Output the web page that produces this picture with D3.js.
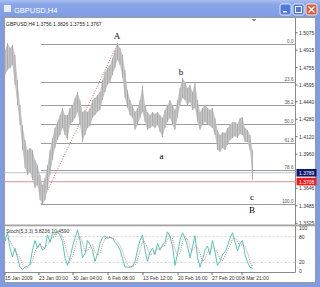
<!DOCTYPE html>
<html>
<head>
<meta charset="utf-8">
<script src="https://cdnjs.cloudflare.com/ajax/libs/d3/7.8.5/d3.min.js"></script>
<style>
  body { margin: 0; overflow: hidden; background: #fff; }
  svg { display: block; }
</style>
</head>
<body>
<div id="chart"></div>
<script>
  // header text
  var symbol = "GBPUSD,H4"
  var ohlcText = "GBPUSD,H4  1.3756  1.3826  1.3755  1.3767"

  var highs = [1.4916, 1.4980, 1.4934, 1.4962, 1.4870, 1.4641, 1.4411, 1.4227, 1.4090, 1.3998,
               1.4016, 1.3998, 1.3906, 1.3860, 1.3768, 1.3677, 1.3741, 1.3860, 1.3998, 1.4108,
               1.4200, 1.4255, 1.4319, 1.4384, 1.4319, 1.4319, 1.4384, 1.4411, 1.4475, 1.4530,
               1.4457, 1.4347, 1.4365, 1.4347, 1.4384, 1.4457, 1.4475, 1.4503, 1.4530, 1.4641,
               1.4714, 1.4751, 1.4778, 1.4843, 1.4916, 1.4980, 1.4934, 1.4870, 1.4732, 1.4549,
               1.4457, 1.4411, 1.4347, 1.4384, 1.4457, 1.4595, 1.4411, 1.4347, 1.4319, 1.4347,
               1.4328, 1.4347, 1.4319, 1.4292, 1.4365, 1.4411, 1.4457, 1.4411, 1.4365, 1.4457,
               1.4567, 1.4659, 1.4622, 1.4567, 1.4595, 1.4530, 1.4622, 1.4457, 1.4347, 1.4384,
               1.4411, 1.4384, 1.4365, 1.4384, 1.4292, 1.4182, 1.4136, 1.4163, 1.4154, 1.4200,
               1.4227, 1.4255, 1.4255, 1.4237, 1.4292, 1.4301, 1.4200, 1.4182, 1.4136, 1.3998]
  var lows  = [1.4686, 1.4732, 1.4751, 1.4778, 1.4595, 1.4411, 1.4227, 1.3998, 1.3833, 1.3768,
               1.3796, 1.3723, 1.3649, 1.3677, 1.3539, 1.3502, 1.3539, 1.3631, 1.3768, 1.3906,
               1.4016, 1.4090, 1.4136, 1.4200, 1.4136, 1.4090, 1.4227, 1.4255, 1.4292, 1.4347,
               1.4227, 1.4071, 1.4136, 1.4200, 1.4218, 1.4292, 1.4319, 1.4347, 1.4365, 1.4457,
               1.4530, 1.4595, 1.4622, 1.4686, 1.4751, 1.4824, 1.4778, 1.4659, 1.4475, 1.4384,
               1.4319, 1.4292, 1.4182, 1.4227, 1.4292, 1.4347, 1.4255, 1.4182, 1.4200, 1.4218,
               1.4200, 1.4227, 1.4163, 1.4117, 1.4200, 1.4255, 1.4292, 1.4227, 1.4182, 1.4292,
               1.4411, 1.4475, 1.4457, 1.4411, 1.4439, 1.4365, 1.4384, 1.4255, 1.4182, 1.4227,
               1.4255, 1.4237, 1.4218, 1.4200, 1.4136, 1.3998, 1.3980, 1.4016, 1.3998, 1.4044,
               1.4090, 1.4108, 1.4127, 1.4108, 1.4145, 1.4136, 1.4071, 1.4071, 1.3998, 1.3723]

  // stochastic (5,3,3) main and signal
  var stochMain = [71, 89, 53, 33, 53, 31, 9, 4, 9, 11,
                   16, 49, 71, 53, 64, 49, 53, 84, 67, 87,
                   84, 93, 82, 69, 31, 13, 31, 56, 76, 96,
                   71, 31, 40, 71, 62, 49, 22, 40, 64, 78,
                   82, 76, 78, 76, 67, 60, 49, 29, 9, 9,
                   9, 11, 22, 49, 71, 84, 49, 22, 44, 53,
                   38, 64, 49, 60, 67, 91, 80, 58, 13, 40,
                   71, 89, 76, 58, 31, 56, 82, 31, 9, 27,
                   49, 58, 38, 71, 44, 13, 22, 38, 44, 58,
                   76, 89, 67, 47, 64, 71, 38, 20, 9, 6]
  var stochSignal = [70, 75, 71, 58, 46, 39, 31, 15, 7, 8,
                     12, 25, 45, 58, 63, 55, 55, 62, 68, 79,
                     79, 88, 86, 81, 61, 38, 25, 33, 54, 76,
                     81, 66, 47, 47, 58, 61, 44, 37, 42, 61,
                     75, 79, 79, 77, 74, 68, 59, 46, 29, 16,
                     9, 10, 14, 27, 47, 68, 68, 52, 38, 40,
                     45, 52, 50, 58, 59, 73, 79, 76, 50, 37,
                     41, 67, 79, 74, 55, 48, 56, 56, 41, 22,
                     28, 45, 48, 56, 51, 43, 26, 24, 35, 47,
                     59, 74, 77, 68, 59, 61, 58, 43, 22, 10]

  // axes
  var priceTicks = [1.5075, 1.4915, 1.4755, 1.4595, 1.4440, 1.4280, 1.4120, 1.3960, 1.3646, 1.3485, 1.3325]
  var priceLabels = ["1.5075", "1.4915", "1.4755", "1.4595", "1.4440", "1.4280", "1.4120", "1.3960", "1.3646", "1.3485", "1.3325"]
  var timeTicks = [0, 13.6, 27.2, 41.2, 55.2, 69.2, 82.8, 94.8]
  var timeLabels = ["15 Jan 2009", "23 Jan 00:00", "30 Jan 04:00", "6 Feb 08:00", "13 Feb 12:00", "20 Feb 16:00", "27 Feb 20:00", "8 Mar 21:00"]
  var stochTicks = [100, 80, 20, 0]

  // fibonacci retracement, drawn from the January low to the February high
  var fibLevels = [0, 23.6, 38.2, 50, 61.8, 78.6, 100]
  var fibLabels = ["0.0", "23.6", "38.2", "50.0", "61.8", "78.6", "100.0"]
  var fibHigh = 1.4971, fibLow = 1.3502
  var fibLowBar = 14.4, fibHighBar = 45

  // wave annotations
  var waveText  = ["A", "b", "a", "c", "B"]
  var waveBar   = [44.8, 70.4, 62.6, 98.8, 98.8]
  var wavePrice = [1.5045, 1.4714, 1.3943, 1.3565, 1.3447]

  // bid line and horizontal line
  var bidPrice = 1.3789, bidLabel = "1.3789"
  var hlinePrice = 1.3708, hlineLabel = "1.3708"

  var W = 320, H = 287

  var svg = d3.select("#chart").append("svg")
      .attr("width", W)
      .attr("height", H)
      .style("font-family", "'Liberation Sans', Arial, sans-serif")

  // ---- window frame ----
  var defs = svg.append("defs")
  var grad = defs.append("linearGradient").attr("id", "tbar").attr("x1", 0).attr("y1", 0).attr("x2", 0).attr("y2", 1)
  grad.append("stop").attr("offset", "0%").attr("stop-color", "#a9bff0")
  grad.append("stop").attr("offset", "25%").attr("stop-color", "#8aa6e8")
  grad.append("stop").attr("offset", "100%").attr("stop-color", "#7e9ce2")

  svg.append("rect").attr("width", W).attr("height", H).attr("fill", "#7f9ce2")
  svg.append("rect").attr("width", W).attr("height", 18).attr("fill", "url(#tbar)")
  svg.append("rect").attr("x", 4).attr("y", 18).attr("width", W - 8).attr("height", H - 22).attr("fill", "#fff")

  // title icon + text
  svg.append("rect").attr("x", 4).attr("y", 5).attr("width", 7).attr("height", 7).attr("fill", "#fff").attr("opacity", 0.8)
  svg.append("text").attr("x", 14).attr("y", 12.5)
      .attr("fill", "#fff").attr("font-size", 7.5).attr("font-family", "'Liberation Sans', sans-serif")
      .text(symbol)

  // title buttons
  var btns = [{x: 280, c: "#4f79de"}, {x: 293, c: "#4f79de"}, {x: 306, c: "#d9603e"}]
  btns.forEach(function(b) {
    svg.append("rect").attr("x", b.x).attr("y", 4).attr("width", 11).attr("height", 11).attr("rx", 2)
        .attr("fill", b.c).attr("stroke", "#fff").attr("stroke-width", 0.8)
  })
  svg.append("rect").attr("x", 283).attr("y", 11).attr("width", 4).attr("height", 1.5).attr("fill", "#fff")
  svg.append("rect").attr("x", 295.5).attr("y", 6.5).attr("width", 6).attr("height", 6).attr("fill", "none").attr("stroke", "#fff").attr("stroke-width", 1)
  svg.append("path").attr("d", "M308.5,6.5L314.5,12.5M314.5,6.5L308.5,12.5").attr("stroke", "#fff").attr("stroke-width", 1.3)

  // ---- scales ----
  var xScale = d3.scaleLinear().domain([0, 99]).range([5, 252.5])
  var yScale = d3.scaleLinear().domain([1.3325, 1.5075]).range([223.3, 32.7])
  var sScale = d3.scaleLinear().domain([0, 100]).range([271, 228])

  var axisX = 295.5

  // chart border
  svg.append("rect").attr("x", 4.5).attr("y", 17.5).attr("width", W - 9).attr("height", 265)
      .attr("fill", "none").attr("stroke", "#9a9a9a")
  svg.append("line").attr("x1", axisX).attr("x2", axisX).attr("y1", 18).attr("y2", 272.5)
      .attr("stroke", "#8a8a8a")
  svg.append("line").attr("x1", 4.5).attr("x2", axisX).attr("y1", 272.5).attr("y2", 272.5)
      .attr("stroke", "#8a8a8a")

  // header line
  svg.append("text").attr("x", 6).attr("y", 26).attr("font-size", 5).attr("fill", "#222").text(ohlcText)

  // shift marker
  svg.append("path").attr("d", "M251.5,19L256.5,19L254,21.5Z").attr("fill", "#888")

  // ---- fibonacci levels ----
  var fib = svg.append("g")
  fibLevels.forEach(function(lv, i) {
    var p = fibHigh - lv / 100 * (fibHigh - fibLow)
    var y = Math.round(yScale(p)) + 0.5
    fib.append("line").attr("x1", xScale(fibLowBar)).attr("x2", axisX).attr("y1", y).attr("y2", y)
        .attr("stroke", "#9c9c9c").attr("stroke-width", 1)
    fib.append("text").attr("x", axisX - 2).attr("y", y - 1.5).attr("text-anchor", "end")
        .attr("font-size", 4.6).attr("fill", "#555").text(fibLabels[i])
  })

  // bid line and horizontal line
  var yb = yScale(bidPrice)
  svg.append("line").attr("x1", 4.5).attr("x2", axisX).attr("y1", yb).attr("y2", yb)
      .attr("stroke", "#b9c3d0").attr("stroke-width", 1)
  var yh = yScale(hlinePrice)
  svg.append("line").attr("x1", 4.5).attr("x2", axisX).attr("y1", yh).attr("y2", yh)
      .attr("stroke", "#e2a8a8").attr("stroke-width", 1.3)

  // fib trend line (dotted)
  svg.append("line")
      .attr("x1", xScale(fibLowBar)).attr("y1", yScale(fibLow))
      .attr("x2", xScale(fibHighBar)).attr("y2", yScale(fibHigh))
      .attr("stroke", "#d05050").attr("stroke-width", 0.9).attr("stroke-dasharray", "1,1.6")

  // ---- price bars ----
  var bars = d3.range(highs.length)
  var band = d3.area()
      .x(function(i) { return xScale(i) })
      .y0(function(i) { return yScale(lows[i]) })
      .y1(function(i) { return yScale(highs[i]) })
  svg.append("path").datum(bars).attr("d", band).attr("fill", "#c6c6c6")
  svg.selectAll(".bar")
      .data(bars)
    .enter().append("line")
      .attr("class", "bar")
      .attr("x1", function(i) { return xScale(i) })
      .attr("x2", function(i) { return xScale(i) })
      .attr("y1", function(i) { return yScale(highs[i]) })
      .attr("y2", function(i) { return yScale(lows[i]) })
      .attr("stroke", "#a8a8a8").attr("stroke-width", 0.9)

  // wave labels
  waveText.forEach(function(t, i) {
    svg.append("text").attr("x", xScale(waveBar[i])).attr("y", yScale(wavePrice[i]))
        .attr("text-anchor", "middle").attr("dominant-baseline", "central")
        .attr("font-family", "'Liberation Serif', 'DejaVu Serif', serif").attr("font-size", 9)
        .attr("fill", "#000").text(t)
  })

  // ---- price axis ----
  var pa = svg.append("g")
  priceTicks.forEach(function(p, i) {
    var y = yScale(p)
    pa.append("line").attr("x1", axisX).attr("x2", axisX + 2).attr("y1", y).attr("y2", y).attr("stroke", "#666")
    pa.append("text").attr("x", axisX + 3.5).attr("y", y).attr("dominant-baseline", "central")
        .attr("font-size", 5).attr("fill", "#333").text(priceLabels[i])
  })
  // price boxes
  ;[[bidPrice, bidLabel, "#0a1a6a"], [hlinePrice, hlineLabel, "#ee1c1c"]].forEach(function(b) {
    var y = yScale(b[0])
    pa.append("rect").attr("x", axisX + 1).attr("y", y - 3.8).attr("width", 20).attr("height", 7.6).attr("fill", b[2])
    pa.append("text").attr("x", axisX + 3.5).attr("y", y).attr("dominant-baseline", "central")
        .attr("font-size", 5).attr("fill", "#fff").text(b[1])
  })

  // ---- separator ----
  svg.append("rect").attr("x", 4.5).attr("y", 224.5).attr("width", W - 9).attr("height", 1.8).attr("fill", "#a4a4a4")

  // ---- stochastic panel ----
  ;[80, 20].forEach(function(v) {
    svg.append("line").attr("x1", 4.5).attr("x2", axisX).attr("y1", sScale(v)).attr("y2", sScale(v))
        .attr("stroke", "#c4c4c4").attr("stroke-width", 0.8).attr("stroke-dasharray", "2,2")
  })
  stochTicks.forEach(function(v) {
    svg.append("text").attr("x", axisX + 3.5).attr("y", sScale(v)).attr("dominant-baseline", "central")
        .attr("font-size", 5).attr("fill", "#333").text(v)
  })

  var mainLine = d3.line().x(function(d, i) { return xScale(i) }).y(function(d) { return sScale(d) })
  svg.append("path").datum(stochMain).attr("d", mainLine)
      .attr("fill", "none").attr("stroke", "#4fc8bb").attr("stroke-width", 1)
  svg.append("path").datum(stochSignal).attr("d", mainLine)
      .attr("fill", "none").attr("stroke", "#d06a6a").attr("stroke-width", 0.9).attr("stroke-dasharray", "1,1.2")

  svg.append("text").attr("x", 6).attr("y", 232.5).attr("font-size", 5).attr("fill", "#333")
      .text("Stoch(5,3,3) 5.8236 10.4590")

  // ---- time axis ----
  timeTicks.forEach(function(t, i) {
    var x = xScale(t)
    svg.append("line").attr("x1", x).attr("x2", x).attr("y1", 272.5).attr("y2", 275).attr("stroke", "#666")
    svg.append("text").attr("x", x).attr("y", 278).attr("dominant-baseline", "central")
        .attr("font-size", 5).attr("fill", "#333").text(timeLabels[i])
  })
</script>
</body>
</html>
